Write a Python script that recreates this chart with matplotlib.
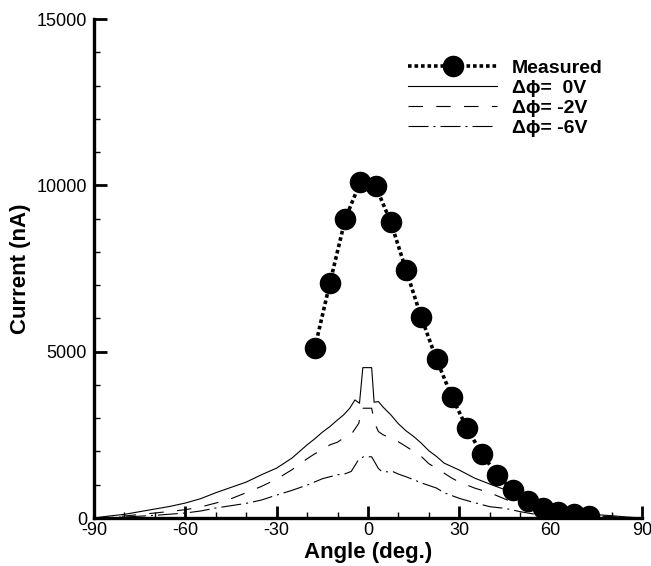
import matplotlib
matplotlib.use("Agg")
import matplotlib.pyplot as plt
from matplotlib.ticker import MultipleLocator

plt.rcParams['font.family'] = ['Liberation Sans', 'DejaVu Sans']
plt.rcParams['axes.unicode_minus'] = False

# measured probe current
meas_angle = [-17.5, -12.5, -7.5, -2.5, 2.5, 7.5, 12.5, 17.5, 22.5, 27.5,
              32.5, 37.5, 42.5, 47.5, 52.5, 57.5, 62.5, 67.5, 72.5]
meas_current = [5100, 7070, 8980, 10110, 9980, 8890, 7450, 6030, 4770, 3650,
                2700, 1910, 1290, 840, 520, 310, 170, 120, 70]

# simulation, dphi = 0V
a_0v = [-90, -85, -80, -75, -70, -65, -60, -55, -50, -45, -40, -35, -30, -25,
        -20, -17.5, -15, -12.5, -10, -8, -6, -4.3, -2.8, -1.7, 1.2, 2.0, 3.4,
        5, 7.5, 10, 12.5, 15, 17.5, 20, 22.5, 25, 30, 35, 40, 45, 50, 55, 60,
        65, 70, 75, 80, 85, 90]
c_0v = [0, 60, 110, 190, 270, 350, 450, 580, 760, 920, 1080, 1300, 1500, 1800,
        2200, 2380, 2580, 2750, 2950, 3100, 3300, 3550, 3450, 4520, 4520, 3480, 3500,
        3330, 3100, 2830, 2620, 2450, 2250, 2020, 1850, 1650, 1440, 1200, 1020, 850, 620, 430, 300,
        200, 150, 100, 70, 30, 0]

# simulation, dphi = -2V
a_2v = [-90, -80, -70, -60, -55, -50, -45, -40, -35, -30, -25, -20, -17.5, -15,
        -12.5, -10, -7.5, -5, -3, -2.2, 1.2, 2.2, 3.4, 5, 7.5, 10, 12.5, 15,
        17.5, 20, 22.5, 25, 27.5, 30, 35, 40, 45, 50, 55, 60, 70, 80, 90]
c_2v = [0, 60, 150, 250, 330, 450, 580, 760, 950, 1170, 1450, 1780, 1930, 2050,
        2200, 2280, 2440, 2580, 2850, 3300, 3300, 2850, 2600, 2500, 2400, 2290, 2150, 2000,
        1850, 1630, 1500, 1350, 1200, 1080, 900, 760, 570, 390, 250, 150, 80, 40, 0]

# simulation, dphi = -6V
a_6v = [-90, -80, -70, -60, -55, -50, -45, -40, -35, -30, -25, -20, -15, -10,
        -7.5, -5.5, -3.2, -1.5, 1.2, 3.4, 4.5, 6, 8.3, 10, 12.5, 15, 18, 22.5,
        25, 30, 35, 40, 45, 50, 55, 60, 70, 80, 90]
c_6v = [0, 30, 80, 150, 210, 300, 370, 440, 540, 690, 830, 990, 1180, 1300,
        1330, 1400, 1740, 1840, 1840, 1490, 1400, 1390, 1390, 1320, 1240, 1150, 1040, 900,
        760, 590, 460, 340, 290, 190, 110, 60, 30, 15, 0]

fig = plt.figure(figsize=(6.51, 5.66), dpi=100)
ax = fig.add_axes([0.1444, 0.0848, 0.8418, 0.8816])

ax.plot(meas_angle, meas_current, color="black", linestyle=(0, (1, 0.8)), linewidth=2.6,
        marker="o", markersize=14.5, markerfacecolor="black", markeredgecolor="black",
        label="Measured")
ax.plot(a_0v, c_0v, color="black", linewidth=0.8, linestyle="-", label="Δϕ=  0V")
ax.plot(a_2v, c_2v, color="black", linewidth=0.8, linestyle=(0, (13, 12)), label="Δϕ= -2V")
ax.plot(a_6v, c_6v, color="black", linewidth=0.8, linestyle=(0, (18, 4.5, 1.8, 4.5)), label="Δϕ= -6V")

ax.set_xlim(-90, 90)
ax.set_ylim(0, 15000)
ax.xaxis.set_major_locator(MultipleLocator(30))
ax.xaxis.set_minor_locator(MultipleLocator(10))
ax.yaxis.set_major_locator(MultipleLocator(5000))
ax.yaxis.set_minor_locator(MultipleLocator(1000))

for s in ["top", "right"]:
    ax.spines[s].set_visible(False)
for s in ["left", "bottom"]:
    ax.spines[s].set_linewidth(2.4)

ax.tick_params(which="major", direction="in", length=9, width=2, labelsize=13)
ax.tick_params(axis="x", which="major", pad=3)
ax.tick_params(axis="y", which="major", pad=5)
ax.tick_params(which="minor", direction="in", length=4.5, width=1)
ax.tick_params(top=False, right=False)

ax.set_xlabel("Angle (deg.)", fontsize=16, fontweight="bold", labelpad=2)
ax.set_ylabel("Current (nA)", fontsize=16, fontweight="bold", labelpad=4)

leg = ax.legend(loc="upper left", bbox_to_anchor=(0.573, 0.92), frameon=False,
                prop={"size": 14, "weight": "bold"}, handlelength=4.6,
                handletextpad=0.75, labelspacing=0.13, borderaxespad=0, borderpad=0)

fig.savefig("out.png", dpi=100)
